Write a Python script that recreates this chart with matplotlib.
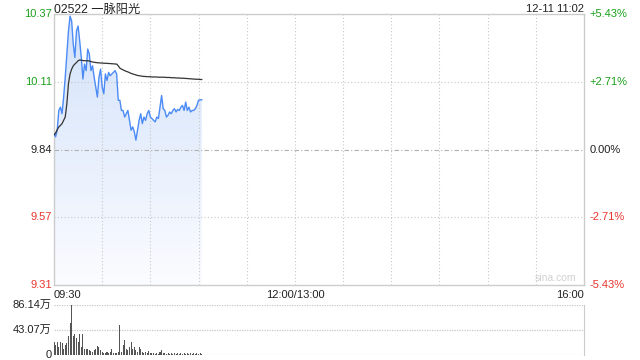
import numpy as np
import matplotlib
matplotlib.use("Agg")
import matplotlib.pyplot as plt
from matplotlib.colors import LinearSegmentedColormap

plt.rcParams['font.family'] = ['Liberation Sans', 'Noto Sans CJK SC', 'DejaVu Sans']

title = "02522 一脉阳光"
stamp = "12-11 11:02"
prev_close = 9.84
range_pct = 5.43
x_tick_labels = ["09:30", "12:00/13:00", "16:00"]
vol_labels = ["86.14万", "43.07万", "0"]
vol_max = 86.14

price = [9.903, 9.890, 9.916, 9.994, 10.007, 9.981, 10.047, 10.125, 10.216, 10.307,
         10.366, 10.346, 10.255, 10.203, 10.307, 10.327, 10.268, 10.203, 10.118, 10.177,
         10.151, 10.236, 10.216, 10.151, 10.170, 10.125, 10.086, 10.047, 10.125, 10.157,
         10.086, 10.060, 10.138, 10.112, 10.144, 10.131, 10.138, 10.144, 10.151, 10.138,
         10.034, 10.034, 9.994, 9.994, 9.968, 9.981, 9.994, 9.955, 9.916, 9.929, 9.910,
         9.877, 9.916, 9.955, 9.981, 9.942, 9.968, 9.955, 9.981, 9.994, 9.968,
         9.962, 9.955, 9.949, 9.968, 9.962, 10.007, 10.053, 10.001, 9.994, 9.968, 9.975,
         9.988, 9.981, 9.994, 10.001, 9.988, 9.998, 9.994, 10.007, 10.014, 9.994, 10.027,
         9.994, 10.007, 9.988, 9.994, 9.994, 10.001, 10.014, 10.034, 10.036, 10.036]

avg = [9.897, 9.905, 9.918, 9.929, 9.935, 9.942, 9.955, 9.968, 10.020, 10.099,
       10.138, 10.157, 10.170, 10.177, 10.183, 10.190, 10.193, 10.192, 10.191, 10.190,
       10.190, 10.190, 10.189, 10.187, 10.185, 10.184, 10.183, 10.182, 10.182, 10.181,
       10.181, 10.180, 10.180, 10.180, 10.179, 10.179, 10.178, 10.178, 10.177, 10.177,
       10.170, 10.161, 10.157, 10.154, 10.151, 10.148, 10.146, 10.143, 10.140, 10.138,
       10.136, 10.134, 10.132, 10.131, 10.130, 10.129, 10.128, 10.128, 10.127, 10.127,
       10.127, 10.126, 10.126, 10.126, 10.126, 10.125, 10.125, 10.125, 10.125, 10.125,
       10.124, 10.124, 10.124, 10.123, 10.123, 10.123, 10.122, 10.122, 10.122, 10.121,
       10.121, 10.121, 10.120, 10.120, 10.119, 10.119, 10.118, 10.118, 10.117, 10.117,
       10.117, 10.116, 10.116]

volume = [23, 17, 23, 14, 23, 20, 11, 17, 20, 32,
          55, 86, 32, 37, 29, 23, 37, 14, 37, 11,
          10, 11, 9, 7, 6, 8, 11, 15, 13, 9,
          6, 4, 4, 6, 4, 6, 10, 4, 3, 4,
          6, 52, 6, 17, 26, 11, 9, 14, 23, 10,
          14, 9, 6, 14, 11, 6, 4, 6, 3, 7,
          4, 3, 4, 2, 4, 2, 6, 9, 4, 3,
          2, 3, 2, 3, 2, 3, 2, 4, 2, 3,
          2, 4, 2, 3, 2, 4, 2, 3, 2, 3, 2, 3, 2]

n = len(price)
t = np.arange(n)
total_min = 330

fig = plt.figure(figsize=(6.4, 3.6), dpi=100)
ax = fig.add_axes([54/640, 1-285/360, 530/640, 271/360])
axv = fig.add_axes([54/640, 1-355/360, 530/640, 50/360])

lo = prev_close * (1 - range_pct/100)
hi = prev_close * (1 + range_pct/100)
ax.set_xlim(0, total_min)
ax.set_ylim(lo, hi)

grid_c = '#c8c8c8'
for xm in range(30, total_min, 30):
    ax.axvline(xm, color=grid_c, lw=0.8, ls=(0, (1, 2)), zorder=2)
q = (hi - lo) / 4
ax.axhline(lo + q, color=grid_c, lw=0.8, ls=(0, (1, 2)), zorder=2)
ax.axhline(hi - q, color=grid_c, lw=0.8, ls=(0, (1, 2)), zorder=2)
ax.axhline(prev_close, color='#b0b0b0', lw=0.8, ls=(0, (4, 2, 1, 2)), zorder=2)

# gradient fill
poly = ax.fill_between(t, price, lo, color='none', lw=0)
cmap = LinearSegmentedColormap.from_list('g', ['#fbfcff', '#d3e2fa'])
grad = np.linspace(0, 1, 256).reshape(-1, 1)
im = ax.imshow(grad, extent=[0, n - 1, lo, max(price)], origin='lower', aspect='auto',
               cmap=cmap, zorder=1)
im.set_clip_path(poly.get_paths()[0], transform=ax.transData)

ax.plot(t, price, color='#4c8bf5', lw=1.0, zorder=3)
ax.plot(t, avg, color='#333333', lw=0.9, zorder=3)

for s in ['top', 'left', 'bottom', 'right']:
    ax.spines[s].set_color('#cccccc')
    ax.spines[s].set_linewidth(1.0)
ax.set_xticks([])
ax.set_yticks([])

fs = 8
levels = [hi, hi - q, prev_close, lo + q, lo]
pcts = [range_pct, range_pct/2, 0.0, -range_pct/2, -range_pct]
for lv, p in zip(levels, pcts):
    c = '#1aa01a' if p > 0 else ('#e8352e' if p < 0 else '#222222')
    ax.text(-0.004, lv, f"{lv:.2f}", transform=ax.get_yaxis_transform(), ha='right',
            va='center', fontsize=fs, color=c)
    ptxt = f"+{p:.2f}%" if p > 0 else f"{p:.2f}%"
    ax.text(1.011, lv, ptxt, transform=ax.get_yaxis_transform(), ha='left',
            va='center', fontsize=fs, color=c)

top_base = (285 - 12.5) / 271
ax.text(0.0, top_base, title, transform=ax.transAxes, ha='left', va='baseline', fontsize=8.8, color='#222222')
ax.text(1.0, top_base, stamp, transform=ax.transAxes, ha='right', va='baseline', fontsize=8, color='#222222')
ax.text(0.985, 0.008, "sina.com", transform=ax.transAxes, ha='right', va='bottom', fontsize=7.5, color='#d0d0d0')

ax.text(0, -0.018, x_tick_labels[0], transform=ax.transAxes, ha='left', va='top', fontsize=fs, color='#222222')
ax.text(150/total_min, -0.018, x_tick_labels[1], transform=ax.transAxes, ha='center', va='top', fontsize=fs, color='#222222')
ax.text(1, -0.018, x_tick_labels[2], transform=ax.transAxes, ha='right', va='top', fontsize=fs, color='#222222')

# volume panel
axv.set_xlim(0, total_min)
axv.set_ylim(0, vol_max)
axv.bar(t, volume, width=0.65, color='#555555', align='center', zorder=2)
for yv in [vol_max, vol_max/2]:
    axv.axhline(yv, color=grid_c, lw=0.9, ls=(0, (1, 1)), zorder=0)
for s in ['top', 'left', 'bottom']:
    axv.spines[s].set_visible(False)
axv.axhline(0, color=grid_c, lw=0.9, ls=(0, (1, 1)), zorder=0)
axv.spines['right'].set_color('#cccccc')
axv.set_xticks([])
axv.set_yticks([])
for yv, lab in zip([vol_max, vol_max/2, 0], vol_labels):
    axv.text(-0.004, yv, lab, transform=axv.get_yaxis_transform(), ha='right', va='center',
             fontsize=fs, color='#222222')

fig.savefig("out.png", dpi=100)
